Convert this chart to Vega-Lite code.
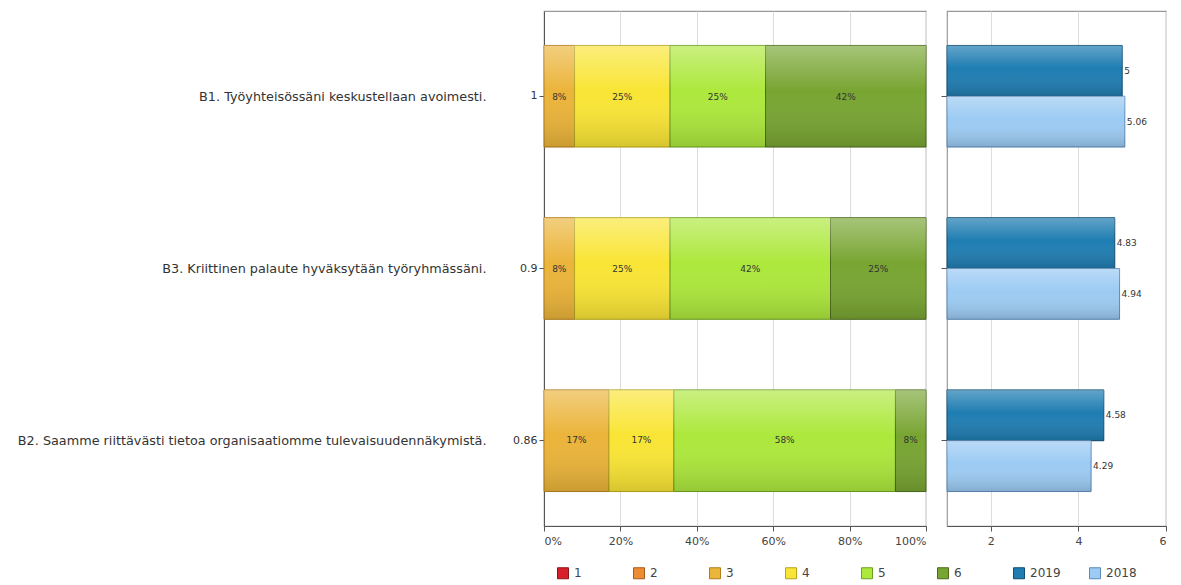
{
  "$schema": "https://vega.github.io/schema/vega-lite/v6.json",
  "padding": {"left": 16, "top": 10, "right": 5, "bottom": 5},
  "bounds": "flush",
  "spacing": 21,
  "config": {
    "font": "DejaVu Sans",
    "view": {"stroke": "#999999", "strokeWidth": 1.2},
    "axis": {
      "labelColor": "#444444",
      "labelFontSize": 11,
      "domainColor": "#555555",
      "tickColor": "#555555",
      "gridColor": "#dddddd",
      "title": null
    }
  },
  "datasets": {
    "answers": [
      {"question": "B1. Työyhteisössäni keskustellaan avoimesti.", "score": "1", "series": "3", "pct": 0.08},
      {"question": "B1. Työyhteisössäni keskustellaan avoimesti.", "score": "1", "series": "4", "pct": 0.25},
      {"question": "B1. Työyhteisössäni keskustellaan avoimesti.", "score": "1", "series": "5", "pct": 0.25},
      {"question": "B1. Työyhteisössäni keskustellaan avoimesti.", "score": "1", "series": "6", "pct": 0.42},
      {"question": "B3. Kriittinen palaute hyväksytään työryhmässäni.", "score": "0.9", "series": "3", "pct": 0.08},
      {"question": "B3. Kriittinen palaute hyväksytään työryhmässäni.", "score": "0.9", "series": "4", "pct": 0.25},
      {"question": "B3. Kriittinen palaute hyväksytään työryhmässäni.", "score": "0.9", "series": "5", "pct": 0.42},
      {"question": "B3. Kriittinen palaute hyväksytään työryhmässäni.", "score": "0.9", "series": "6", "pct": 0.25},
      {"question": "B2. Saamme riittävästi tietoa organisaatiomme tulevaisuudennäkymistä.", "score": "0.86", "series": "3", "pct": 0.17},
      {"question": "B2. Saamme riittävästi tietoa organisaatiomme tulevaisuudennäkymistä.", "score": "0.86", "series": "4", "pct": 0.17},
      {"question": "B2. Saamme riittävästi tietoa organisaatiomme tulevaisuudennäkymistä.", "score": "0.86", "series": "5", "pct": 0.58},
      {"question": "B2. Saamme riittävästi tietoa organisaatiomme tulevaisuudennäkymistä.", "score": "0.86", "series": "6", "pct": 0.08}
    ],
    "means": [
      {"question": "B1. Työyhteisössäni keskustellaan avoimesti.", "series": "2019", "mean": 5},
      {"question": "B1. Työyhteisössäni keskustellaan avoimesti.", "series": "2018", "mean": 5.06},
      {"question": "B3. Kriittinen palaute hyväksytään työryhmässäni.", "series": "2019", "mean": 4.83},
      {"question": "B3. Kriittinen palaute hyväksytään työryhmässäni.", "series": "2018", "mean": 4.94},
      {"question": "B2. Saamme riittävästi tietoa organisaatiomme tulevaisuudennäkymistä.", "series": "2019", "mean": 4.58},
      {"question": "B2. Saamme riittävästi tietoa organisaatiomme tulevaisuudennäkymistä.", "series": "2018", "mean": 4.29}
    ]
  },
  "hconcat": [
    {
      "width": 382,
      "height": 515,
      "data": {"name": "answers"},
      "layer": [
        {
          "encoding": {
            "y": {
              "field": "score", "type": "nominal", "sort": "descending",
              "scale": {"paddingInner": 0.41, "paddingOuter": 0.2},
              "axis": {"orient": "left", "tickSize": 5, "labelPadding": 2, "labelFontSize": 11, "labelColor": "#333333"}
            },
            "x": {
              "field": "pct", "type": "quantitative", "stack": "zero",
              "scale": {"domain": [0, 1], "nice": false},
              "axis": {"values": [0, 0.2, 0.4, 0.6, 0.8, 1], "format": ".0%", "grid": true, "tickSize": 5, "labelPadding": 4}
            },
            "order": {"field": "series"}
          },
          "layer": [
            {
              "mark": {"type": "bar", "strokeWidth": 1},
              "encoding": {
                "fill": {
                  "field": "series", "type": "nominal",
                  "scale": {
                    "domain": ["1", "2", "3", "4", "5", "6", "2019", "2018"],
                    "range": ["#d61f2b", "#ee8c34", "#ebb43a", "#f9e535", "#ade83c", "#78a532", "#1f7db2", "#9ccbf3"]
                  },
                  "legend": {
                    "orient": "none", "legendX": 13, "legendY": 556,
                    "direction": "horizontal", "columns": 8, "gridAlign": "all",
                    "columnPadding": 26, "title": null,
                    "symbolType": "square", "symbolSize": 121, "symbolStrokeWidth": 1,
                    "symbolStrokeColor": "#555555", "symbolOpacity": 1,
                    "labelFontSize": 12, "labelColor": "#444444", "labelOffset": 5
                  }
                },
                "stroke": {
                  "field": "series", "type": "nominal",
                  "scale": {
                    "domain": ["1", "2", "3", "4", "5", "6", "2019", "2018"],
                    "range": ["#8a1414", "#a85a18", "#b07c1c", "#b5a41c", "#6e9e22", "#4b6b1a", "#0f4d72", "#5b89b8"]
                  },
                  "legend": null
                }
              }
            },
            {
              "mark": {
                "type": "bar",
                "fill": {
                  "gradient": "linear", "x1": 0, "y1": 0, "x2": 0, "y2": 1,
                  "stops": [
                    {"offset": 0, "color": "rgba(255,255,255,0.35)"},
                    {"offset": 0.45, "color": "rgba(255,255,255,0)"},
                    {"offset": 1, "color": "rgba(0,0,0,0.14)"}
                  ]
                }
              },
              "encoding": {}
            }
          ]
        },
        {
          "transform": [
            {"stack": "pct", "groupby": ["question"], "sort": [{"field": "series", "order": "ascending"}], "as": ["p0", "p1"]},
            {"fold": ["p0", "p1"], "as": ["edge", "pos"]},
            {"aggregate": [{"op": "mean", "field": "pos", "as": "mid"}], "groupby": ["question", "series", "pct"]}
          ],
          "mark": {"type": "text", "fontSize": 9, "color": "#333333"},
          "encoding": {
            "y": {
              "field": "question", "type": "nominal",
              "sort": [
                "B1. Työyhteisössäni keskustellaan avoimesti.",
                "B3. Kriittinen palaute hyväksytään työryhmässäni.",
                "B2. Saamme riittävästi tietoa organisaatiomme tulevaisuudennäkymistä."
              ],
              "scale": {"paddingInner": 0.41, "paddingOuter": 0.2},
              "axis": {"orient": "left", "offset": 50, "ticks": false, "domain": false, "labelPadding": 8, "labelLimit": 700, "labelFontSize": 12.8, "labelColor": "#333333"}
            },
            "x": {"field": "mid", "type": "quantitative"},
            "text": {"field": "pct", "type": "quantitative", "format": ".0%"}
          }
        }
      ],
      "resolve": {"scale": {"y": "independent"}, "axis": {"y": "independent"}}
    },
    {
      "width": 219,
      "height": 515,
      "data": {"name": "means"},
      "encoding": {
        "y": {
          "field": "question", "type": "nominal",
          "sort": [
            "B1. Työyhteisössäni keskustellaan avoimesti.",
            "B3. Kriittinen palaute hyväksytään työryhmässäni.",
            "B2. Saamme riittävästi tietoa organisaatiomme tulevaisuudennäkymistä."
          ],
          "scale": {"paddingInner": 0.41, "paddingOuter": 0.2},
          "axis": {"labels": false, "domain": false, "tickSize": 6}
        },
        "yOffset": {
          "field": "series", "type": "nominal", "sort": ["2019", "2018"],
          "scale": {"paddingInner": 0, "paddingOuter": 0}
        },
        "x": {
          "field": "mean", "type": "quantitative",
          "scale": {"domain": [1, 6], "nice": false, "zero": false},
          "axis": {"values": [2, 4, 6], "grid": true, "tickSize": 5, "labelPadding": 4}
        }
      },
      "layer": [
        {
          "mark": {"type": "bar", "strokeWidth": 1},
          "encoding": {
            "x2": {"datum": 1},
            "fill": {"field": "series", "type": "nominal"},
            "stroke": {"field": "series", "type": "nominal", "legend": null}
          }
        },
        {
          "mark": {
            "type": "bar",
            "fill": {
              "gradient": "linear", "x1": 0, "y1": 0, "x2": 0, "y2": 1,
              "stops": [
                {"offset": 0, "color": "rgba(255,255,255,0.3)"},
                {"offset": 0.45, "color": "rgba(255,255,255,0)"},
                {"offset": 1, "color": "rgba(0,0,0,0.16)"}
              ]
            }
          },
          "encoding": {
            "x2": {"datum": 1}
          }
        },
        {
          "mark": {"type": "text", "align": "left", "dx": 2, "fontSize": 9, "color": "#333333"},
          "encoding": {
            "text": {"field": "mean", "type": "quantitative", "format": "~r"}
          }
        }
      ]
    }
  ]
}
